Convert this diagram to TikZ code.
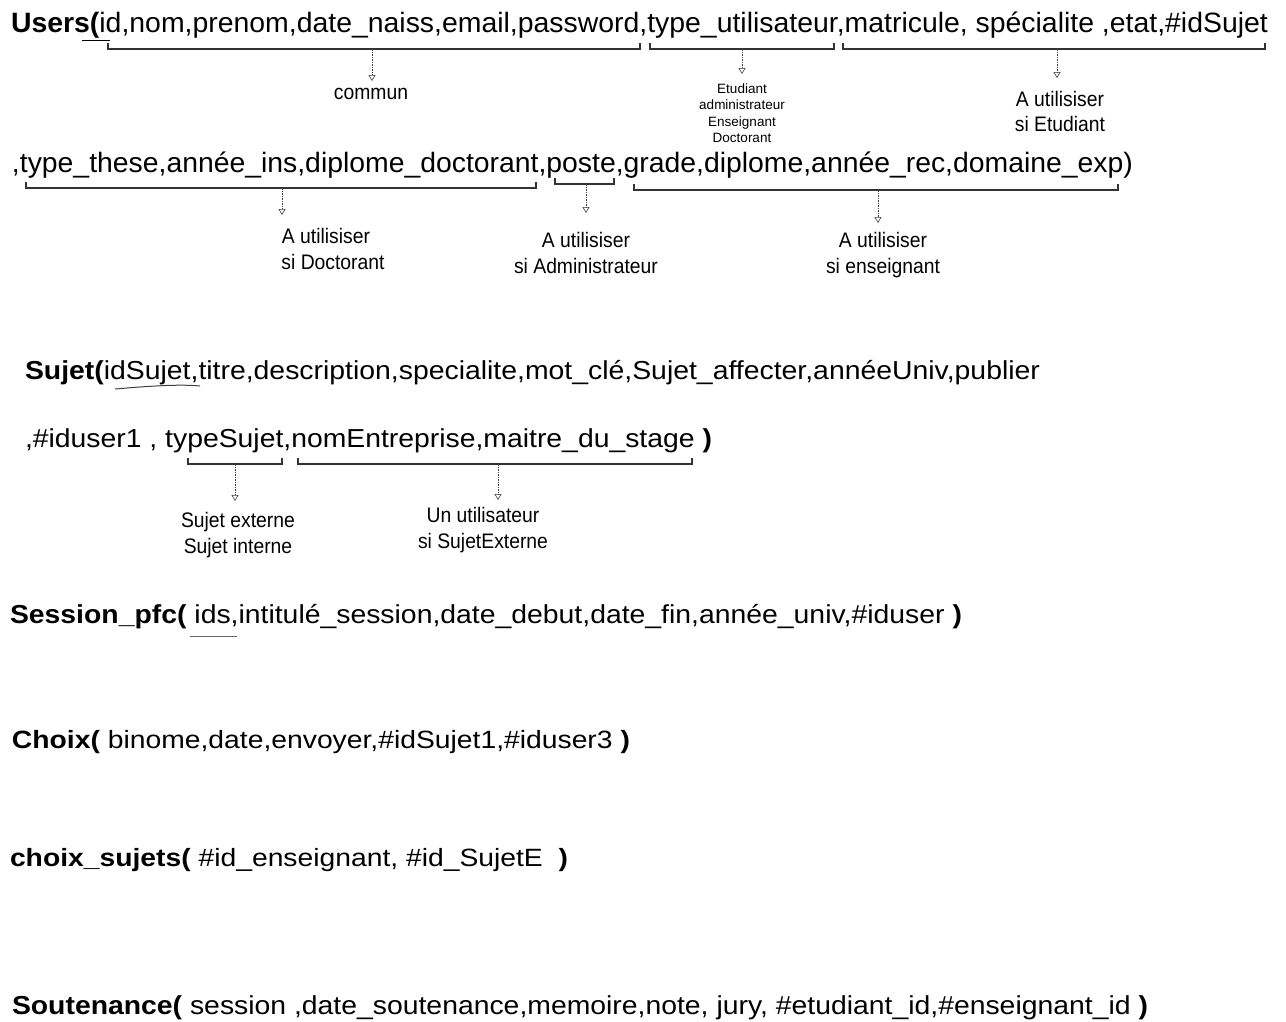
\documentclass[tikz,border=0pt]{standalone}
\usepackage{fontspec}
\setmainfont{Liberation Sans}
\usepackage{graphicx}
\usetikzlibrary{arrows.meta}
\newcommand{\fitw}[2]{\resizebox{#1pt}{\height}{#2}}
\begin{document}
\begin{tikzpicture}[x=1pt,y=-1pt,
  rel/.style={anchor=base west,inner sep=0pt,outer sep=0pt},
  lbl/.style={font=\fontsize{21}{25}\selectfont,inner sep=0pt,anchor=base},
  tinylbl/.style={font=\fontsize{13.5}{16}\selectfont,inner sep=0pt,anchor=base},
  brk/.style={line width=1.1pt,draw=black!80},
  conn/.style={draw=black!75,line width=0.6pt,dash pattern=on 1.5pt off 1pt,-{Triangle[open,length=6pt,width=7pt,line width=0.6pt]}},
  uline/.style={line width=1pt}
]
\fill[white] (0,0) rectangle (1286,1021);
\useasboundingbox (0,0) rectangle (1286,1021);

% ---------- Users ----------
\node[rel,font=\fontsize{28}{32}\selectfont] (u1) at (11,32)
  {\fitw{1257}{\textbf{Users(}id,nom,prenom,date\_naiss,email,password,type\_utilisateur,matricule, spécialite ,etat,\#idSujet}};
\node[rel,font=\fontsize{28}{32}\selectfont] (u2) at (12,172)
  {\fitw{1121}{,type\_these,année\_ins,diplome\_doctorant,poste,grade,diplome,année\_rec,domaine\_exp)}};
\draw[uline] (82,40) -- (110,40);

% brackets line 1
\draw[brk] (108,43) |- (640,49) -- (640,43);
\draw[brk] (650,43) |- (834,49) -- (834,43);
\draw[brk] (843,43) |- (1265,49) -- (1265,43);
\coordinate (b1) at (372,49);
\coordinate (b2) at (742,49);
\coordinate (b3) at (1057,49);
\coordinate (t1) at (372,81);
\coordinate (t2) at (742,74);
\coordinate (t3) at (1057,78);
\draw[conn] (b1) -- (t1);
\draw[conn] (b2) -- (t2);
\draw[conn] (b3) -- (t3);
\node[lbl] (l1) at (371,99) {\scalebox{0.92}[1]{commun}};
\node[tinylbl] (l2a) at (742,93) {Etudiant};
\node[tinylbl] (l2b) at (742,109.5) {administrateur};
\node[tinylbl] (l2c) at (742,126) {Enseignant};
\node[tinylbl] (l2d) at (742,142.5) {Doctorant};
\node[lbl] (l3a) at (1060,106) {\scalebox{0.92}[1]{A utilisiser}};
\node[lbl] (l3b) at (1060,131) {\scalebox{0.92}[1]{si Etudiant}};

% brackets line 2
\draw[brk] (26,182) |- (536,188) -- (536,182);
\draw[brk] (555,178) |- (614,184) -- (614,178);
\draw[brk] (634,184) |- (1118,190) -- (1118,184);
\coordinate (b4) at (282,188);
\coordinate (b5) at (586,184);
\coordinate (b6) at (878,190);
\coordinate (t4) at (282,215);
\coordinate (t5) at (586,213);
\coordinate (t6) at (878,223);
\draw[conn] (b4) -- (t4);
\draw[conn] (b5) -- (t5);
\draw[conn] (b6) -- (t6);
\node[lbl] (l4a) at (326,243) {\scalebox{0.92}[1]{A utilisiser}};
\node[lbl] (l4b) at (333,269) {\scalebox{0.92}[1]{si Doctorant}};
\node[lbl] (l5a) at (586,247) {\scalebox{0.92}[1]{A utilisiser}};
\node[lbl] (l5b) at (586,273) {\scalebox{0.92}[1]{si Administrateur}};
\node[lbl] (l6a) at (883,247) {\scalebox{0.92}[1]{A utilisiser}};
\node[lbl] (l6b) at (883,273) {\scalebox{0.92}[1]{si enseignant}};

% ---------- Sujet ----------
\node[rel,font=\fontsize{26}{30}\selectfont] (s1) at (25,379)
  {\fitw{1015}{\textbf{Sujet(}idSujet,titre,description,specialite,mot\_clé,Sujet\_affecter,annéeUniv,publier}};
\node[rel,font=\fontsize{26}{30}\selectfont] (s2) at (25,447)
  {\fitw{687}{,\#iduser1 , typeSujet,nomEntreprise,maitre\_du\_stage \textbf{)}}};
\draw[line width=1pt,draw=black!75] (115,389) .. controls (150,386) and (180,384) .. (200,386);

\draw[brk] (188,458) |- (282,464) -- (282,458);
\draw[brk] (298,458) |- (692,464) -- (692,458);
\coordinate (b7) at (235,464);
\coordinate (b8) at (498,464);
\coordinate (t7) at (235,501);
\coordinate (t8) at (498,500);
\draw[conn] (b7) -- (t7);
\draw[conn] (b8) -- (t8);
\node[lbl] (l7a) at (238,527) {\scalebox{0.92}[1]{Sujet externe}};
\node[lbl] (l7b) at (238,553) {\scalebox{0.92}[1]{Sujet interne}};
\node[lbl] (l8a) at (483,522) {\scalebox{0.92}[1]{Un utilisateur}};
\node[lbl] (l8b) at (483,548) {\scalebox{0.92}[1]{si SujetExterne}};

% ---------- Session ----------
\node[rel,font=\fontsize{26}{30}\selectfont] (se) at (10,623)
  {\fitw{952}{\textbf{Session\_pfc(} ids,intitulé\_session,date\_debut,date\_fin,année\_univ,\#iduser \textbf{)}}};
\draw[line width=1pt,draw=black!60] (190,636) -- (237,636);

% ---------- Choix ----------
\node[rel,font=\fontsize{25}{29}\selectfont] (ch) at (12,748.5)
  {\fitw{618}{\textbf{Choix(} binome,date,envoyer,\#idSujet1,\#iduser3 \textbf{)}}};

% ---------- choix_sujets ----------
\node[rel,font=\fontsize{25}{29}\selectfont] (cs) at (10,866.5)
  {\fitw{558}{\textbf{choix\_sujets(} \#id\_enseignant, \#id\_SujetE\ \ \textbf{)}}};

% ---------- Soutenance ----------
\node[rel,font=\fontsize{26}{30}\selectfont] (so) at (12,1014)
  {\fitw{1136}{\textbf{Soutenance(} session ,date\_soutenance,memoire,note, jury, \#etudiant\_id,\#enseignant\_id \textbf{)}}};
\end{tikzpicture}
\end{document}
